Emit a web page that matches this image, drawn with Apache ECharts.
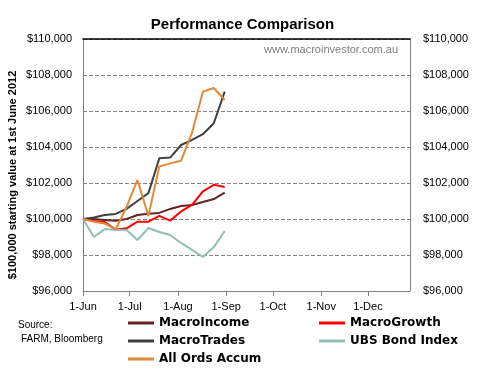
<!DOCTYPE html>
<html><head><meta charset="utf-8">
<script src="https://cdn.jsdelivr.net/npm/echarts@6/dist/echarts.min.js"></script>
<style>html,body{margin:0;padding:0;background:#fff}#c{width:485px;height:374px}</style>
</head><body><div id="c"></div>
<script>
const weekDates = ['2012-06-01','2012-06-08','2012-06-15','2012-06-22','2012-06-29','2012-07-06','2012-07-13','2012-07-20','2012-07-27','2012-08-03','2012-08-10','2012-08-17','2012-08-24','2012-08-31'];
const macroIncome = [100000,100000,99950,99900,100000,100220,100290,100340,100560,100720,100780,100940,101110,101460];
const macroGrowth = [100000,99890,99830,99410,99480,99850,99850,100170,99910,100420,100780,101540,101900,101780];
const macroTrades = [100000,100080,100220,100280,100560,101000,101440,103370,103410,104110,104390,104710,105320,107080];
const ubsBond = [100000,99000,99440,99390,99390,98830,99500,99280,99110,98670,98280,97890,98440,99330];
const allOrds = [100000,99850,99750,99420,100670,102170,100170,102920,103090,103240,104780,107070,107280,106610];
const tickDates = ['2012-06-01','2012-07-01','2012-08-01','2012-09-01','2012-10-01','2012-11-01','2012-12-01'];
const tickLabels = ['1-Jun','1-Jul','1-Aug','1-Sep','1-Oct','1-Nov','1-Dec'];
const axisStart = '2012-06-01', axisEnd = '2012-12-28';
const yMin = 96000, yMax = 110000, yStep = 2000;

const days = [];
for (let t = Date.parse(axisStart + 'T00:00:00Z'); t <= Date.parse(axisEnd + 'T00:00:00Z'); t += 86400000) {
  days.push(new Date(t).toISOString().slice(0, 10));
}
const isTick = (i, v) => tickDates.indexOf(v) >= 0;
const money = v => '$' + v.toLocaleString('en-US');

const names = ['MacroIncome','MacroGrowth','MacroTrades','UBS Bond Index','All Ords Accum'];
const colors = ['#632523','#FF0000','#404040','#8FBFB5','#E08A3A'];
const values = [macroIncome, macroGrowth, macroTrades, ubsBond, allOrds];

const chart = echarts.init(document.getElementById('c'), null, {renderer: 'canvas'});
const yAxisBase = {
  type: 'value', min: yMin, max: yMax, interval: yStep,
  axisLine: {show: true, lineStyle: {color: '#808080', width: 1}},
  axisTick: {show: false},
  axisLabel: {formatter: money, color: '#000', fontFamily: 'Liberation Sans', fontSize: 11}
};
const legendBase = {
  orient: 'vertical', top: 316, height: 58, padding: 0, itemGap: 4, itemWidth: 26, itemHeight: 3, icon: 'rect',
  textStyle: {fontFamily: 'DejaVu Sans', fontWeight: 'bold', fontSize: 12, color: '#000', lineHeight: 14}
};
chart.setOption({
  animation: false,
  backgroundColor: '#fff',
  title: {text: 'Performance Comparison', left: 'center', top: 12,
    textStyle: {fontFamily: 'Liberation Sans', fontWeight: 'bold', fontSize: 15, color: '#000'}},
  grid: {left: 83, right: 75, top: 39, bottom: 83, containLabel: false},
  xAxis: [{
    type: 'category', data: days, boundaryGap: false,
    axisLine: {lineStyle: {color: '#808080', width: 1}},
    axisTick: {show: true, interval: isTick, length: 5, lineStyle: {color: '#808080'}},
    axisLabel: {interval: isTick, formatter: v => tickLabels[tickDates.indexOf(v)] || '',
      margin: 10, color: '#000', fontFamily: 'Liberation Sans', fontSize: 11},
    splitLine: {show: false}
  }, {
    type: 'category', data: days, boundaryGap: false, position: 'top',
    axisLine: {show: true, lineStyle: {color: '#000', width: 1.5}},
    axisTick: {show: false}, axisLabel: {show: false}, splitLine: {show: false}
  }],
  yAxis: [
    Object.assign({}, yAxisBase, {position: 'left', axisLabel: Object.assign({}, yAxisBase.axisLabel, {margin: 11}),
      splitLine: {show: true, lineStyle: {color: '#808080', width: 1, type: [4, 2]}}}),
    Object.assign({}, yAxisBase, {position: 'right', axisLabel: Object.assign({}, yAxisBase.axisLabel, {margin: 13}),
      splitLine: {show: false}})
  ],
  legend: [
    Object.assign({}, legendBase, {left: 128, data: ['MacroIncome','MacroTrades','All Ords Accum']}),
    Object.assign({}, legendBase, {left: 319, data: ['MacroGrowth','UBS Bond Index']})
  ],
  graphic: [
    {type: 'text', x: 13, y: 175, rotation: Math.PI / 2,
      style: {text: '$100,000 starting value at 1st June 2012', align: 'center', verticalAlign: 'middle',
        fontFamily: 'Liberation Sans', fontWeight: 'bold', fontSize: 11, fill: '#000'}},
    {type: 'text', x: 398, y: 50,
      style: {text: 'www.macroinvestor.com.au', align: 'right', verticalAlign: 'middle',
        fontFamily: 'Liberation Sans', fontSize: 11, fill: '#808080'}},
    {type: 'text', x: 18, y: 325,
      style: {text: 'Source:', align: 'left', verticalAlign: 'middle', fontFamily: 'Liberation Sans', fontSize: 10, fill: '#000'}},
    {type: 'text', x: 21, y: 339,
      style: {text: 'FARM, Bloomberg', align: 'left', verticalAlign: 'middle', fontFamily: 'Liberation Sans', fontSize: 10, fill: '#000'}}
  ],
  series: names.map((n, k) => ({
    name: n, type: 'line', xAxisIndex: 0, yAxisIndex: 0, symbol: 'none',
    lineStyle: {color: colors[k], width: 2}, itemStyle: {color: colors[k]},
    data: weekDates.map((d, i) => [d, values[k][i]])
  }))
});
</script></body></html>
